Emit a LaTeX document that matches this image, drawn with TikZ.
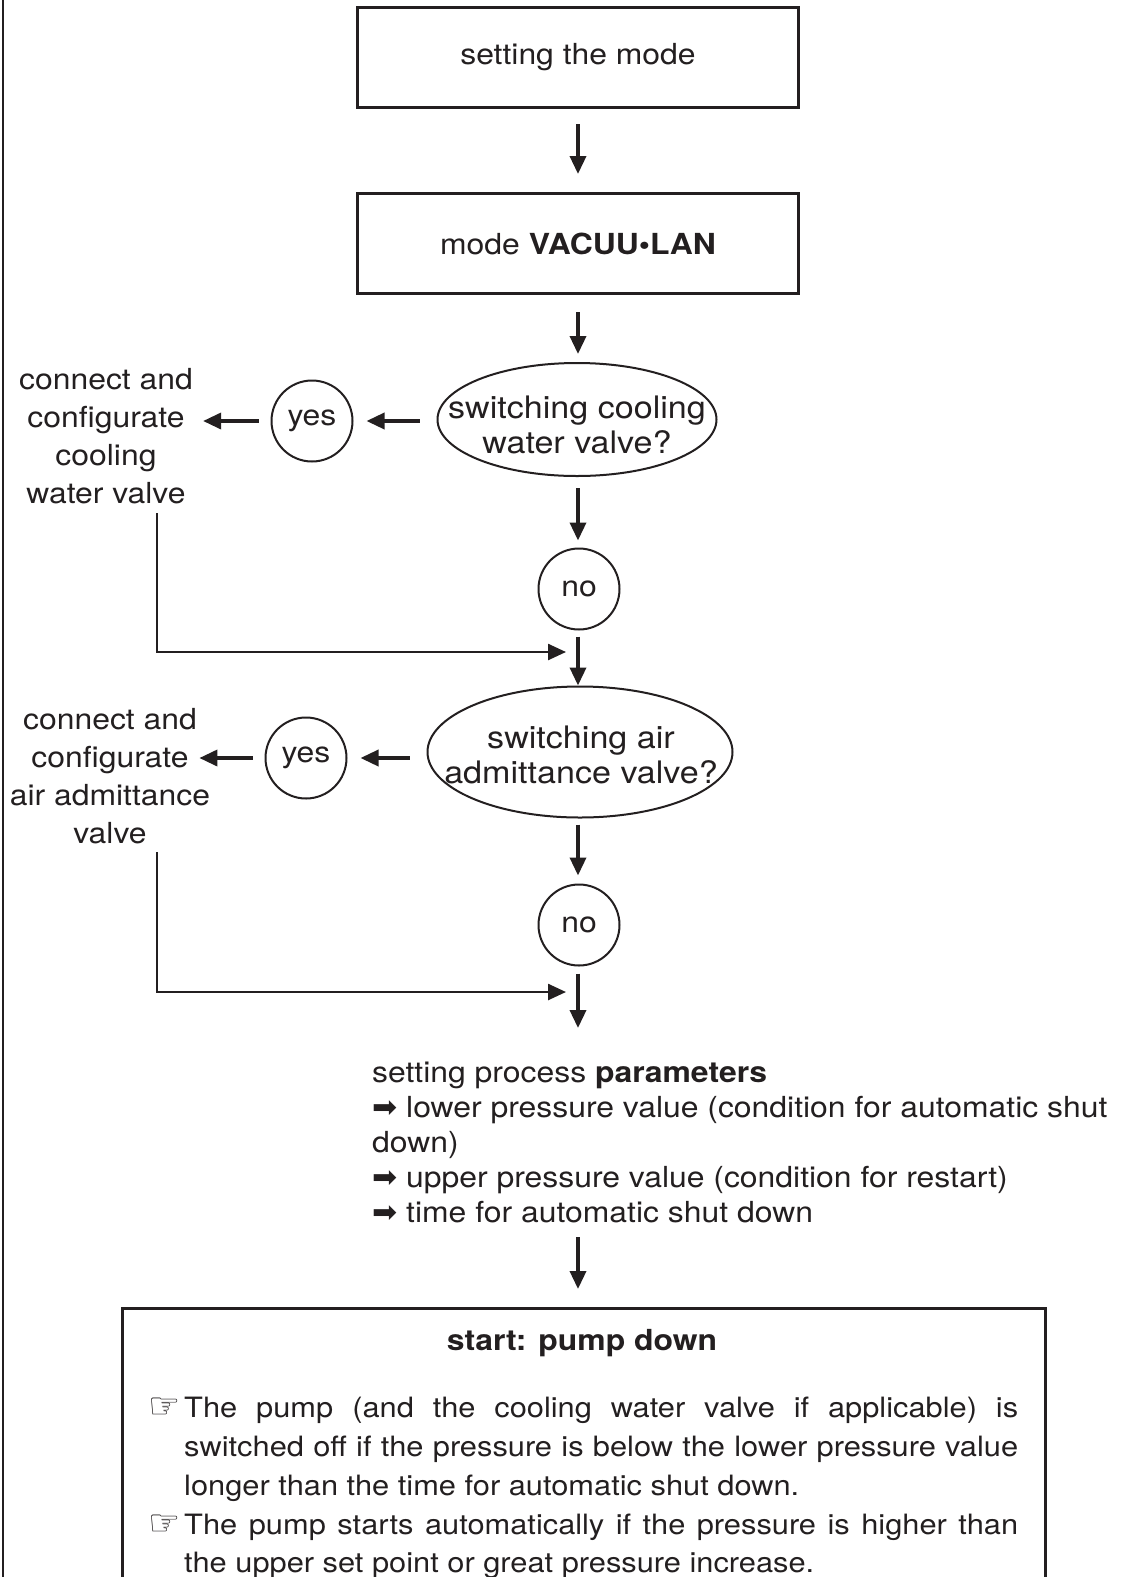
\documentclass[tikz,border=0pt]{standalone}
\usepackage{fontspec}
\setmainfont{TeX Gyre Heros}[FakeStretch=1.1]
\newfontfamily\symfont{DejaVu Sans}
\usetikzlibrary{arrows.meta,shapes.geometric}
\definecolor{ink}{RGB}{35,31,32}
\newcommand{\myfs}[2]{\fontsize{#1}{#2}\selectfont}
\newcommand{\myarrow}{\raisebox{0pt}[0pt][0pt]{\symfont\myfs{30}{30}➡}}
\newcommand{\myhand}{\raisebox{-1pt}[0pt][0pt]{\symfont\myfs{36}{30}☞}}
\begin{document}
\begin{tikzpicture}[x=1pt,y=-1pt,
  every node/.style={text=ink},
  box/.style={draw=ink,line width=3pt,minimum width=441pt,minimum height=100pt,inner sep=0pt,font=\myfs{29}{35}},
  decision/.style={ellipse,draw=ink,line width=2pt,inner sep=0pt},
  dtext/.style={align=center,inner sep=0pt,font=\myfs{31}{35}},
  answer/.style={circle,draw=ink,line width=2pt,minimum size=81pt,inner sep=0pt,font=\myfs{29}{35}},
  side/.style={align=center,inner sep=0pt,font=\myfs{29}{38}},
  arr/.style={draw=ink,line width=3.5pt,-{Triangle[length=18pt,width=16pt]}},
  ret/.style={draw=ink,line width=2.5pt,-{Triangle[length=18pt,width=16pt]}},
]
\useasboundingbox (0,0) rectangle (1125,1577);
\draw[ink,line width=2.5pt] (3,-5) -- (3,1585);

% boxes
\node[box] (b1) at (578,57.5) {setting the mode};
\node[box] (b2) at (578,243.5) {mode \textbf{VACUU•LAN}};

% first decision
\node[decision,minimum width=279pt,minimum height=113pt] (e1) at (577,419.5) {};
\node[dtext] (e1t) at (577,425) {switching cooling\\water valve?};
\node[answer] (y1) at (312,421) {yes};
\node[answer] (n1) at (579,589) {no};
\node[side] (t1) at (106,436) {connect and\\configurate\\cooling\\water valve};

% second decision
\node[decision,minimum width=305pt,minimum height=131pt] (e2) at (580,752) {};
\node[dtext] (e2t) at (581,755) {switching air\\admittance valve?};
\node[answer] (y2) at (306,758) {yes};
\node[answer] (n2) at (579,925) {no};
\node[side] (t2) at (110,776) {connect and\\configurate\\air admittance\\valve};

% parameters
\node[anchor=north west,align=left,inner sep=0pt,font=\myfs{29}{35}] (par) at (372,1062) {setting process \textbf{parameters}\\
\myarrow\ lower pressure value (condition for automatic shut\\
down)\\
\myarrow\ upper pressure value (condition for restart)\\
\myarrow\ time for automatic shut down};

% final box
\node[draw=ink,line width=3pt,anchor=north west,minimum width=923pt,minimum height=320pt,inner sep=0pt] (pb) at (120.5,1307) {};
\node[inner sep=0pt,font=\myfs{29}{35}\bfseries] (pt) at (582,1343) {start: pump down};
\node[anchor=north west,inner sep=0pt,font=\myfs{28}{38.8}] (pbody) at (148,1397) {\parbox[t]{870pt}{\tolerance=9999\hbadness=10000\emergencystretch=20pt\setlength{\parindent}{0pt}%
\hangindent=36pt\hangafter=1
\makebox[36pt][l]{\myhand}The pump (and the cooling water valve if applicable) is\linebreak switched off if the pressure is below the lower pressure value\linebreak longer than the time for automatic shut down.\par
\hangindent=36pt\hangafter=1
\makebox[36pt][l]{\myhand}The pump starts automatically if the pressure is higher than\linebreak the upper set point or great pressure increase.}};

% junction points on the main line
\coordinate (r1) at (157,513);
\coordinate (j1) at (578,652);
\coordinate (r2) at (157,852);
\coordinate (j2) at (578,992);

% connectors
\draw[arr,shorten <=15pt,shorten >=18pt] (b1.south) -- (b2.north);
\draw[arr,shorten <=17pt,shorten >=8pt] (b2.south) -- (e1.north -| b2.south);
\draw[arr,shorten <=17pt,shorten >=13pt] (e1.west |- y1) -- (y1.east);
\draw[arr,shorten <=12pt,shorten >=10pt] (y1.west) -- (t1.east |- y1.west);
\draw[arr,shorten <=11pt,shorten >=7pt] (e1.south -| b2.south) -- (n1.north -| b2.south);
\draw[arr,shorten <=6pt,shorten >=0pt] (n1.south -| b2.south) -- (e2.north -| b2.south);
\draw[ret,shorten >=12pt] (r1) |- (j1);

\draw[arr,shorten <=17pt,shorten >=13pt] (e2.west |- y2) -- (y2.east);
\draw[arr,shorten <=12pt,shorten >=-11pt] (y2.west) -- (t2.east |- y2.west);
\draw[arr,shorten <=6pt,shorten >=8pt] (e2.south -| b2.south) -- (n2.north -| b2.south);
\draw[arr,shorten <=7pt,shorten >=34pt] (n2.south -| b2.south) -- (par.north -| b2.south);
\draw[ret,shorten >=12pt] (r2) |- (j2);

\draw[arr,shorten <=14pt,shorten >=18pt] (par.south -| b2.south) -- (pb.north -| b2.south);
\end{tikzpicture}
\end{document}
